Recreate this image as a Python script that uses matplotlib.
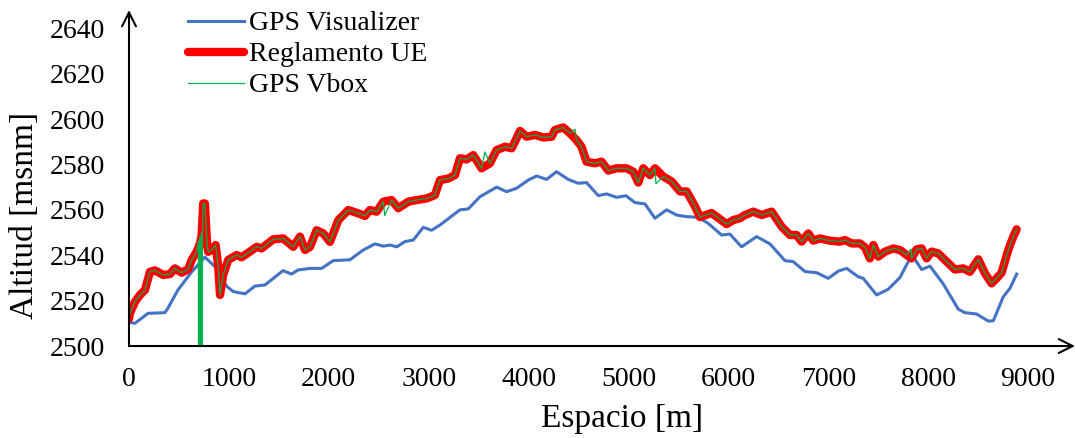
import numpy as np
import matplotlib.pyplot as plt

plt.rcParams['font.family'] = ['Liberation Serif', 'DejaVu Serif']

# GPS Visualizer profile
vis_x = [0, 60, 190, 360, 390, 490, 628, 690, 760, 878, 978, 1043, 1161, 1261, 1361,
         1542, 1628, 1692, 1812, 1929, 2043, 2212, 2345, 2462, 2545, 2613, 2680, 2763,
         2846, 2946, 3029, 3113, 3313, 3396, 3514, 3680, 3780, 3880, 3997, 4080, 4180,
         4280, 4397, 4497, 4580, 4697, 4781, 4881, 4975, 5065, 5165, 5265, 5382, 5482,
         5582, 5699, 5799, 5932, 6016, 6132, 6283, 6416, 6567, 6649, 6767, 6884, 7000,
         7100, 7184, 7300, 7350, 7484, 7600, 7718, 7818, 7851, 7935, 8018, 8152, 8302,
         8368, 8485, 8602, 8652, 8752, 8819, 8886]
vis_y = [2510.5, 2510.0, 2514.4, 2514.7, 2516.7, 2524.7, 2532.7, 2535.7, 2539.2, 2534.2,
         2526.3, 2524.0, 2523.0, 2526.4, 2526.9, 2533.2, 2531.7, 2533.5, 2534.2, 2534.2,
         2537.6, 2538.0, 2542.3, 2545.0, 2544.0, 2544.5, 2543.7, 2546.0, 2546.7, 2552.3,
         2551.0, 2553.3, 2560.0, 2560.4, 2565.8, 2570.0, 2568.0, 2569.5, 2573.1, 2574.9,
         2573.4, 2576.8, 2573.4, 2571.7, 2572.0, 2566.3, 2567.0, 2565.5, 2566.2, 2563.2,
         2562.6, 2556.3, 2560.0, 2557.7, 2557.0, 2556.7, 2554.0, 2548.9, 2549.3, 2543.7,
         2548.2, 2545.0, 2537.6, 2537.2, 2532.8, 2532.3, 2529.8, 2533.0, 2534.2, 2530.5,
         2529.8, 2522.5, 2525.0, 2530.2, 2538.6, 2539.3, 2533.7, 2535.2, 2527.3, 2516.2,
         2514.7, 2514.1, 2511.0, 2511.1, 2521.7, 2525.4, 2531.7]

# EU regulation processed profile
ue_x = [0, 10, 60, 110, 160, 210, 260, 343, 410, 460, 527, 593, 627, 677, 711, 727, 743,
        760, 783, 793, 827, 867, 893, 911, 943, 993, 1077, 1127, 1211, 1277, 1327, 1444,
        1544, 1644, 1711, 1762, 1812, 1878, 1945, 2012, 2096, 2196, 2279, 2362, 2412,
        2479, 2546, 2629, 2696, 2796, 2879, 2979, 3062, 3113, 3196, 3263, 3313, 3379,
        3446, 3479, 3529, 3613, 3679, 3764, 3830, 3880, 3914, 3980, 4064, 4147, 4230,
        4264, 4347, 4414, 4480, 4530, 4580, 4665, 4731, 4798, 4881, 4981, 5048, 5098,
        5148, 5215, 5265, 5348, 5432, 5516, 5582, 5666, 5716, 5832, 5916, 5982, 6049,
        6116, 6166, 6249, 6333, 6433, 6533, 6617, 6683, 6733, 6800, 6850, 6917, 7017,
        7117, 7167, 7234, 7317, 7367, 7417, 7451, 7501, 7568, 7651, 7718, 7785, 7834,
        7884, 7935, 7985, 8035, 8101, 8168, 8268, 8351, 8418, 8502, 8569, 8635, 8685,
        8735, 8802, 8852, 8886]
ue_y = [2512.0, 2514.5, 2519.5, 2522.5, 2524.7, 2532.7, 2533.3, 2531.3, 2531.7, 2534.2,
        2532.3, 2533.8, 2537.9, 2541.5, 2545.2, 2548.9, 2562.8, 2562.8, 2543.7, 2541.5,
        2542.3, 2544.5, 2535.1, 2522.5, 2531.3, 2537.9, 2540.1, 2539.1, 2541.6, 2543.7,
        2543.0, 2547.0, 2547.4, 2543.7, 2548.2, 2542.3, 2543.7, 2551.0, 2549.6, 2545.9,
        2555.5, 2559.9, 2558.7, 2557.3, 2559.9, 2559.2, 2563.6, 2564.3, 2560.7, 2563.6,
        2564.3, 2565.0, 2566.5, 2573.1, 2573.8, 2575.3, 2582.7, 2582.2, 2584.1, 2581.9,
        2578.3, 2580.5, 2586.3, 2587.8, 2587.1, 2591.5, 2594.8, 2592.2, 2593.0, 2591.9,
        2592.2, 2595.2, 2596.3, 2593.7, 2590.7, 2587.8, 2581.2, 2580.5, 2581.2, 2577.3,
        2578.3, 2578.3, 2576.8, 2572.0, 2578.3, 2575.3, 2578.3, 2574.7, 2572.5, 2568.1,
        2568.1, 2561.5, 2556.8, 2558.6, 2555.9, 2553.7, 2555.5, 2556.3, 2557.7, 2559.2,
        2557.7, 2559.2, 2552.6, 2548.9, 2548.9, 2546.0, 2549.6, 2546.4, 2547.4, 2546.4,
        2546.0, 2546.7, 2545.2, 2545.2, 2543.5, 2538.6, 2544.5, 2539.4, 2541.6, 2543.0,
        2542.3, 2540.1, 2538.6, 2542.6, 2543.0, 2538.6, 2541.6, 2540.8, 2537.9, 2533.7,
        2534.2, 2532.7, 2538.2, 2532.0, 2527.6, 2529.8, 2532.3, 2542.3, 2548.2, 2551.4]

# Vbox raw logger: same track plus dropouts and glitches
vbox_glitch_x = [0, 695, 700, 705, 710, 715, 720, 725, 730, 735, 2560, 3563, 4465, 5275, 7828]
vbox_glitch_y = [0, 2546.0, 0, 2547.0, 0, 2548.5, 0, 2549.9, 0, 2549.0,
                 2557.5, 2585.5, 2595.5, 2571.5, 2542.7]

vbox = sorted(zip(ue_x + vbox_glitch_x[1:], ue_y + vbox_glitch_y[1:]))
vbox_x = [vbox_glitch_x[0]] + [p[0] for p in vbox]
vbox_y = [vbox_glitch_y[0]] + [p[1] for p in vbox]

fig = plt.figure(figsize=(10.75, 4.38), dpi=100)
ax = fig.add_axes([0.12, 0.21, 0.88, 0.767])

ax.plot(vis_x, vis_y, color='#4472C4', lw=2.2, label='GPS Visualizer')
ax.plot(ue_x, ue_y, color='#FF0000', lw=6, solid_joinstyle='round',
        solid_capstyle='round', label='Reglamento UE')
ax.plot(vbox_x, vbox_y, color='#00B050', lw=0.9, label='GPS Vbox')

ax.set_xlim(0, 9470)
ax.set_ylim(2500, 2648)
ax.set_xticks(np.arange(0, 9001, 1000))
ax.set_yticks(np.arange(2500, 2641, 20))
ax.tick_params(length=0, labelsize=20)
ax.tick_params(axis='x', pad=15)
ax.tick_params(axis='y', pad=17)

for s in ax.spines.values():
    s.set_visible(False)

# axis arrows
ax.annotate('', xy=(0, 1), xytext=(0, 0), xycoords='axes fraction',
            arrowprops=dict(arrowstyle='->', lw=1.5, color='black',
                            mutation_scale=25, shrinkA=0, shrinkB=0))
ax.annotate('', xy=(1, 0), xytext=(0, 0), xycoords='axes fraction',
            arrowprops=dict(arrowstyle='->', lw=1.5, color='black',
                            mutation_scale=25, shrinkA=0, shrinkB=0))

ax.set_xlabel('Espacio [m]', fontsize=24)
ax.set_ylabel('Altitud [msnm]', fontsize=24)
ax.xaxis.set_label_coords(0.521, -0.17)
ax.yaxis.set_label_coords(-0.094, 0.39)

ax.legend(loc='upper left', bbox_to_anchor=(0.175, 0.975), bbox_transform=fig.transFigure,
          frameon=False, fontsize=20, handlelength=2.0, handletextpad=0.2,
          labelspacing=0.2, borderpad=0, borderaxespad=0)

fig.savefig('out.png', dpi=100)
